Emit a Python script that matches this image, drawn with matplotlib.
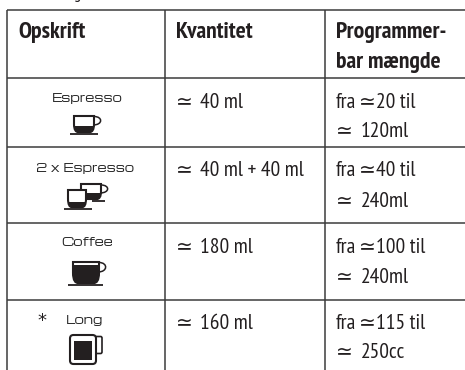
import matplotlib
matplotlib.use("Agg")
import matplotlib.pyplot as plt
from matplotlib.path import Path
from matplotlib.patches import PathPatch, FancyBboxPatch, Rectangle

headers = ["Opskrift", "Kvantitet", "Programmer-", "bar mængde"]
recipes = ["Espresso", "2 x Espresso", "Coffee", "Long"]
quantities = ["40 ml", "40 ml + 40 ml", "180 ml", "160 ml"]
prog_from = ["20 til", "40 til", "100 til", "115 til"]
prog_to = ["120ml", "240ml", "240ml", "250cc"]

W, H = 465, 370
fig = plt.figure(figsize=(W/100, H/100), dpi=100)
ax = fig.add_axes([0, 0, 1, 1])
ax.set_xlim(0, W); ax.set_ylim(H, 0); ax.axis("off")

INK = "#231f20"
NARROW = ["PT Sans Narrow", "Liberation Sans", "DejaVu Sans"]
WIDE = ["Michroma", "DejaVu Sans"]
SYM = ["DejaVu Sans"]
GRID = "#3c3c3c"

for y in [10, 78, 147, 223, 300]:
    ax.plot([7, W], [y, y], color=GRID, lw=1.1, solid_capstyle="butt")
for x in [7, 165, 325]:
    ax.plot([x, x], [10, H], color=GRID, lw=1.1, solid_capstyle="butt")

ax.text(73, -2, "g", fontsize=12, family=NARROW, color=INK)

hfs = 17; fs = 15.5; sfs = 14.5
hd = dict(fontsize=hfs, fontweight="bold", family=NARROW, color=INK)
ax.text(18, 38, headers[0], **hd)
ax.text(176, 38, headers[1], **hd)
ax.text(336, 38, headers[2], **hd)
ax.text(336, 68, headers[3], **hd)

base1 = [108, 176, 253, 329]
base2 = [137, 207, 283, 358]
body = dict(fontsize=fs, family=NARROW, color=INK)
sym = dict(fontsize=sfs, family=SYM, color=INK)
for i in range(4):
    ax.text(175.5, base1[i], "\u2243", **sym)
    ax.text(200, base1[i], quantities[i], **body)
    ax.text(336, base1[i], "fra", **body)
    ax.text(358.5, base1[i], "\u2243", **sym)
    ax.text(376, base1[i], prog_from[i], **body)
    ax.text(335.5, base2[i], "\u2243", **sym)
    ax.text(361, base2[i], prog_to[i], **body)

lab = dict(ha="center", va="center", fontsize=8.5, family=WIDE, color="#262626")
ax.text(87, 98, recipes[0], **lab)
ax.text(84.5, 168, recipes[1], **lab)
ax.text(87.5, 243, recipes[2], **lab)
ax.text(84, 320, recipes[3], **lab)
ax.text(42, 321, "*", ha="center", va="center", fontsize=13, family=SYM, color=INK)


def cup(x0, x1, y0, y1, level, hx, hy0, hy1, saucer=None, z=3):
    """Rounded cup with a dark coffee level, C handle and optional saucer."""
    ym = y0 + (y1 - y0) * 0.5
    inset = (x1 - x0) * 0.2
    verts = [(x0, y0), (x1, y0), (x1, ym),
             (x1, y1 - 2), (x1 - inset * 0.5, y1), (x1 - inset, y1),
             (x0 + inset, y1),
             (x0 + inset * 0.5, y1), (x0, y1 - 2), (x0, ym),
             (x0, y0)]
    codes = [Path.MOVETO, Path.LINETO, Path.LINETO,
             Path.CURVE4, Path.CURVE4, Path.CURVE4,
             Path.LINETO,
             Path.CURVE4, Path.CURVE4, Path.CURVE4,
             Path.CLOSEPOLY]
    path = Path(verts, codes)
    handle = Path([(x1, hy0), (hx, hy0), (hx, hy1), (x1 - 1, hy1)],
                  [Path.MOVETO, Path.CURVE4, Path.CURVE4, Path.CURVE4])
    ax.add_patch(PathPatch(handle, fc="none", ec=INK, lw=1.1, zorder=z))
    shell = PathPatch(path, fc="white", ec=INK, lw=1.5, zorder=z)
    ax.add_patch(shell)
    coffee = Rectangle((x0, level), x1 - x0, y1 - level, fc=INK, ec="none", zorder=z + 0.1)
    ax.add_patch(coffee)
    coffee.set_clip_path(shell)
    if saucer:
        ax.plot(saucer[:2], [saucer[2]] * 2, color=INK, lw=1.3, solid_capstyle="butt", zorder=z)


cup(74, 94, 116, 132, 126, 103, 116.5, 125, (70, 98, 134))
cup(81, 101, 184, 199, 193, 110, 185, 193, (92, 105, 201), z=3)
cup(68, 86, 190, 207, 202, 86, 190, 190, (64, 92, 208.5), z=4)
cup(73, 99, 262, 283, 265, 108, 262.5, 272, (68, 103, 285))

ax.add_patch(FancyBboxPatch((95, 336.5), 7, 17, boxstyle="round,pad=0,rounding_size=1.5",
                            fc="white", ec=INK, lw=1.2, zorder=2))
ax.add_patch(FancyBboxPatch((70, 335), 26, 29, boxstyle="round,pad=0,rounding_size=3.5",
                            fc="white", ec=INK, lw=1.5, zorder=3))
ax.add_patch(Rectangle((74, 341), 18, 19, fc=INK, ec="none", zorder=4))

fig.savefig("out.png", dpi=100)
